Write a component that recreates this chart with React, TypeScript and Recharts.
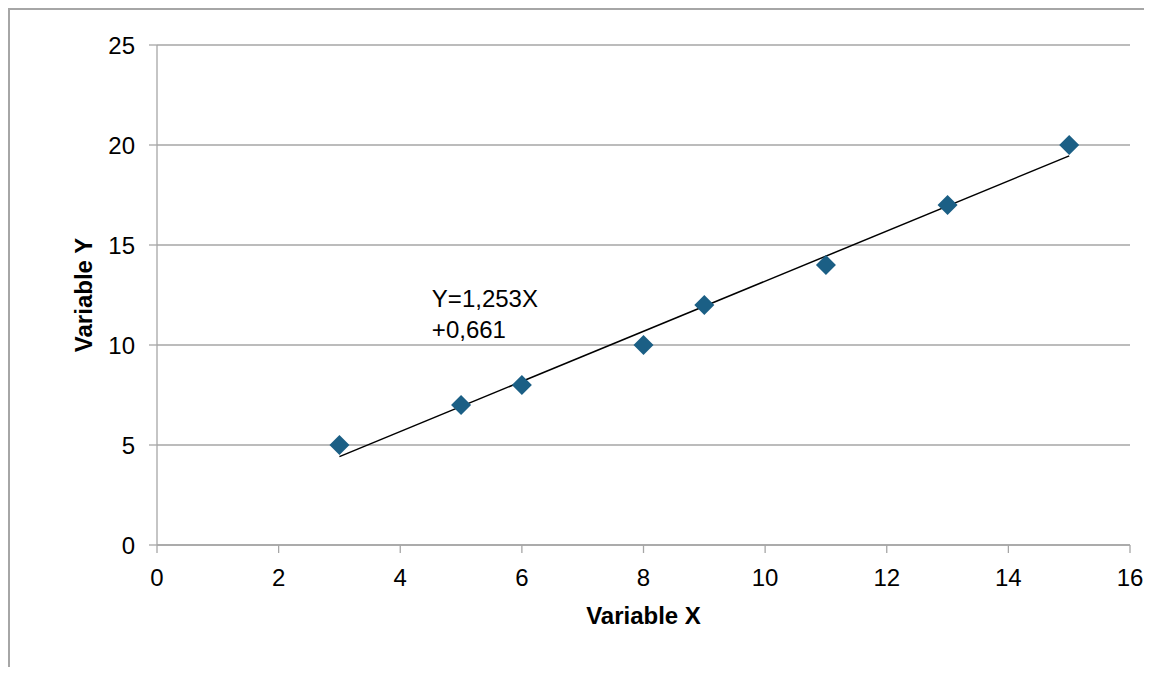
import {
  ScatterChart,
  Scatter,
  XAxis,
  YAxis,
  CartesianGrid,
  ReferenceLine,
  ReferenceDot,
} from "recharts";

const xValues = [3, 5, 6, 8, 9, 11, 13, 15];
const yValues = [5, 7, 8, 10, 12, 14, 17, 20];
const xTicks = [0, 2, 4, 6, 8, 10, 12, 14, 16];
const yTicks = [0, 5, 10, 15, 20, 25];
const slope = 1.253;
const intercept = 0.661;
const equationLines = ["Y=1,253X", "+0,661"];

const points = xValues.map((x, i) => ({ x, y: yValues[i] }));
const trendStart = { x: xValues[0], y: slope * xValues[0] + intercept };
const trendEnd = {
  x: xValues[xValues.length - 1],
  y: slope * xValues[xValues.length - 1] + intercept,
};

const font = "'Liberation Sans', Arial, sans-serif";
const grey = "#a6a6a6";
const markerColor = "#1b5f85";

const Diamond = (props: any) => {
  const { cx, cy } = props;
  const r = 10;
  return (
    <polygon
      points={`${cx},${cy - r} ${cx + r},${cy} ${cx},${cy + r} ${cx - r},${cy}`}
      fill={markerColor}
    />
  );
};

const YTitle = (props: any) => {
  const { viewBox } = props;
  const cx = 73;
  const cy = viewBox.y + viewBox.height / 2;
  return (
    <text
      x={cx}
      y={cy}
      transform={`rotate(-90 ${cx} ${cy})`}
      textAnchor="middle"
      dominantBaseline="central"
      fontFamily={font}
      fontWeight="bold"
      fontSize={24}
      fill="#000"
    >
      Variable Y
    </text>
  );
};

const Equation = (props: any) => {
  const { viewBox } = props;
  return (
    <text x={viewBox.x} y={viewBox.y} fontFamily={font} fontSize={24} fill="#000">
      {equationLines.map((line, i) => (
        <tspan key={line} x={viewBox.x} dy={i === 0 ? 0 : 31}>
          {line}
        </tspan>
      ))}
    </text>
  );
};

export default function App() {
  return (
    <div
      style={{
        width: 1142,
        height: 665,
        marginBottom: -8,
        borderLeft: `2px solid ${grey}`,
        borderTop: `2px solid ${grey}`,
      }}
    >
      <ScatterChart
        width={1142}
        height={655}
        margin={{ top: 35, right: 22, bottom: 60, left: 87 }}
      >
        <CartesianGrid vertical={false} stroke={grey} strokeWidth={1.3} />
        <XAxis
          type="number"
          dataKey="x"
          domain={[0, 16]}
          ticks={xTicks}
          interval={0}
          height={60}
          stroke={grey}
          strokeWidth={1.3}
          tickSize={8}
          tickMargin={16}
          tick={{ fill: "#000", fontSize: 24, fontFamily: font }}
          label={{
            value: "Variable X",
            position: "bottom",
            offset: 2,
            fill: "#000",
            fontSize: 24,
            fontWeight: "bold",
            fontFamily: font,
          }}
        />
        <YAxis
          type="number"
          dataKey="y"
          domain={[0, 25]}
          ticks={yTicks}
          interval={0}
          width={60}
          stroke={grey}
          strokeWidth={1.3}
          tickSize={8}
          tickMargin={14}
          tick={{ fill: "#000", fontSize: 24, fontFamily: font }}
          label={<YTitle />}
        />
        <ReferenceLine
          segment={[trendStart, trendEnd]}
          stroke="#000"
          strokeWidth={1.5}
          ifOverflow="visible"
        />
        <Scatter
          data={points}
          shape={<Diamond />}
          isAnimationActive={false}
        />
        <ReferenceDot
          x={4.52}
          y={11.9}
          r={0}
          fill="none"
          stroke="none"
          ifOverflow="visible"
          label={<Equation />}
        />
      </ScatterChart>
    </div>
  );
}
